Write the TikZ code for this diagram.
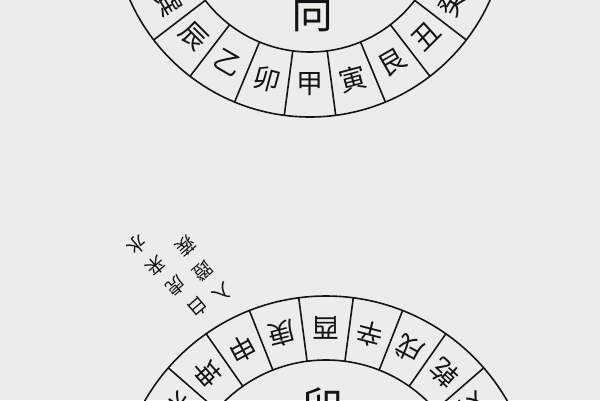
\documentclass[tikz,border=0pt]{standalone}
\usepackage{fontspec}
\newfontfamily\cjk{Noto Sans CJK SC}
\usetikzlibrary{calc}
\definecolor{paper}{RGB}{236,236,233}
\definecolor{ink}{RGB}{20,20,20}
\begin{document}
\begin{tikzpicture}[x=1pt,y=1pt,
  ring/.style={line width=1.6pt,draw=ink},
  glyph/.style={font=\cjk\fontsize{27}{27}\selectfont,inner sep=0pt,text=ink},
  biglabel/.style={font=\cjk\fontsize{42}{42}\selectfont,inner sep=0pt,text=ink},
  note/.style={font=\cjk\fontsize{19}{19}\selectfont,inner sep=0pt,text=ink,rotate=-139.5}]
\useasboundingbox (0,0) rectangle (600,-400);
\fill[paper] (0,0) rectangle (600,-400);
\clip (0,0) rectangle (600,-400);
% ---------- top ring ----------
\coordinate (c1) at (310,80);
\draw[ring] (c1) circle[radius=197];
\draw[ring] (c1) circle[radius=132];
\foreach \a in {-172.5,-157.5,...,-7.5}
  \draw[ring] ($(c1)+(\a:132)$) -- ($(c1)+(\a:197)$);
\foreach \ch [count=\i] in {子,癸,丑,艮,寅,甲,卯,乙,辰,巽,巳}{
  \pgfmathsetmacro\t{-15*\i}
  \node[glyph,rotate={\t+90}] (t\i) at ($(c1)+(\t:164.5)$) {\ch};
}
\node[biglabel] (xiang) at (312,-12) {向};
% ---------- bottom ring ----------
\coordinate (c2) at (326,-505);
\draw[ring] (c2) circle[radius=209];
\draw[ring] (c2) circle[radius=145];
\foreach \a in {13,27,41,55,68.5,82.5,97.5,111.5,125,139,153,167}
  \draw[ring] ($(c2)+(\a:145)$) -- ($(c2)+(\a:209)$);
\foreach \ch/\t [count=\i] in {壬/20,亥/34,乾/48,戌/61.75,辛/75.5,酉/90,庚/104.5,申/118.25,坤/132,未/146,丁/160}{
  \node[glyph,rotate={\t+90}] (b\i) at ($(c2)+(\t:177)$) {\ch};
}
\node[biglabel] (mao) at (322,-407) {卯};
% ---------- annotation ----------
\node[note] (n1) at (198,-307) {白};
\node[note] (n2) at (176,-286) {虎};
\node[note] (n3) at (156,-266) {来};
\node[note] (n4) at (137,-245) {水};
\node[note] (n5) at (223,-293) {入};
\node[note] (n6) at (203,-271) {蹬};
\node[note] (n7) at (186,-246) {蒺};
\end{tikzpicture}
\end{document}
